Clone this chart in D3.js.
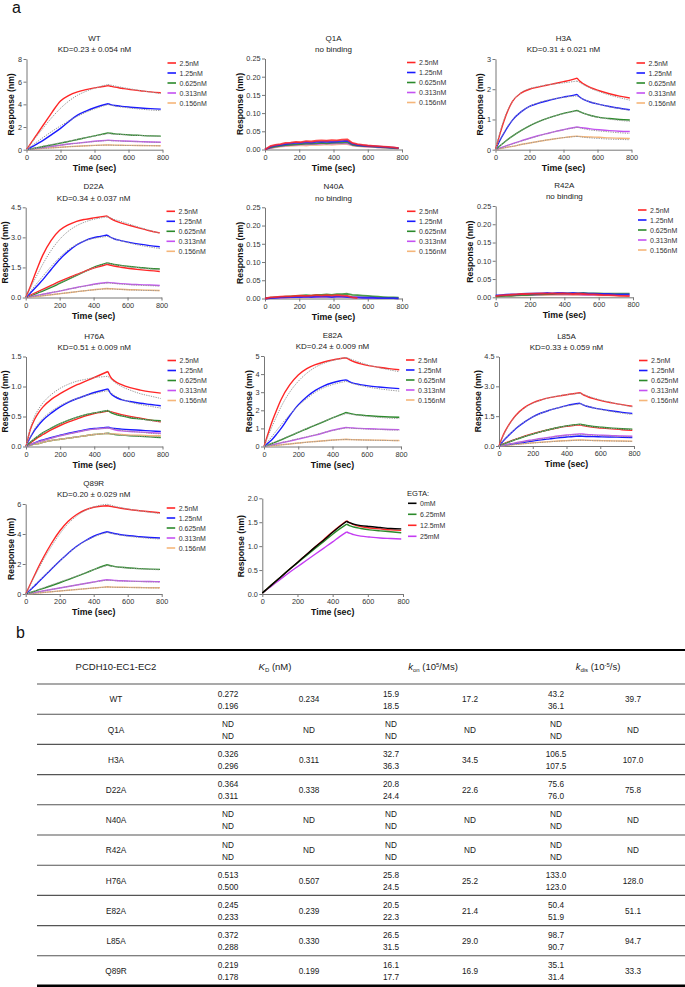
<!DOCTYPE html>
<html><head><meta charset="utf-8">
<script src="https://cdn.jsdelivr.net/npm/d3@7"></script>
<style>
body{margin:0;background:#fff;}
svg{display:block;font-family:"Liberation Sans",Arial,Helvetica,sans-serif;}
</style></head><body>
<svg id="fig" width="685" height="987"></svg>
<script>
// ---------- DATA ----------
const timeGrid = [0,25,50,75,100,150,200,250,300,350,400,440,480,495,520,560,610,670,730,790];
const noiseGrid = [0,30,60,90,120,150,180,210,240,270,300,330,360,390,420,450,480,510,540,570,600,630,660,690,720,750,780];
const xTicks = [0,200,400,600,800];
const concLabels = ["2.5nM","1.25nM","0.625nM","0.313nM","0.156nM"];
const egtaLabels = ["0mM","6.25mM","12.5mM","25mM"];
const panelTitles = ["WT","Q1A","H3A","D22A","N40A","R42A","H76A","E82A","L85A","Q89R",""];
const panelSubtitles = ["KD=0.23 ± 0.054 nM","no binding","KD=0.31 ± 0.021 nM","KD=0.34 ± 0.037 nM","no binding","no binding","KD=0.51 ± 0.009 nM","KD=0.24 ± 0.009 nM","KD=0.33 ± 0.059 nM","KD=0.20 ± 0.029 nM",""];
const yMax = [8,0.25,3,4.5,0.25,0.25,1.5,5,4.5,6,2];
const yTicks = [
  [0,2,4,6,8],[0,0.05,0.10,0.15,0.20,0.25],[0,1,2,3],
  [0,1.5,3.0,4.5],[0,0.05,0.10,0.15,0.20,0.25],[0,0.05,0.10,0.15,0.20,0.25],
  [0,0.5,1.0,1.5],[0,1,2,3,4,5],[0,1.5,3.0,4.5],
  [0,2,4,6],[0,0.5,1.0,1.5,2.0]
];
const yFormats = ["d",".2f","d",".1f",".2f",".2f",".1f","d",".1f","d",".1f"];

// WT
const wtSeries = [
 [0,0.55,1.1,1.65,2.2,3.3,4.3,4.8,5.1,5.3,5.45,5.55,5.65,5.6,5.52,5.42,5.3,5.2,5.1,5.02],
 [0,0.2,0.4,0.62,0.85,1.35,1.88,2.5,3.05,3.4,3.7,3.9,4.05,3.98,3.9,3.82,3.75,3.68,3.62,3.58],
 [0,0.07,0.14,0.21,0.28,0.43,0.58,0.74,0.9,1.06,1.22,1.35,1.48,1.45,1.4,1.35,1.3,1.26,1.22,1.2],
 [0,0.05,0.1,0.15,0.2,0.3,0.4,0.5,0.58,0.66,0.74,0.79,0.83,0.82,0.8,0.77,0.74,0.71,0.68,0.66],
 [0,0.03,0.06,0.09,0.12,0.17,0.22,0.27,0.31,0.35,0.38,0.4,0.42,0.41,0.4,0.39,0.38,0.37,0.36,0.35]
];
const wtColors = [0,1,2,3,4];
const wtFits = [
 [0,0.5,1.0,1.48,1.95,2.85,3.65,4.3,4.8,5.15,5.42,5.6,5.75,5.7,5.62,5.5,5.37,5.22,5.08,4.95],
 [0,0.28,0.56,0.83,1.1,1.62,2.1,2.55,2.95,3.3,3.6,3.8,3.98,3.92,3.85,3.76,3.67,3.58,3.5,3.45],
 [0,0.08,0.16,0.24,0.32,0.47,0.62,0.77,0.92,1.06,1.2,1.31,1.42,1.4,1.37,1.33,1.29,1.25,1.21,1.18],
 [0,0.05,0.1,0.15,0.2,0.3,0.4,0.49,0.57,0.65,0.72,0.77,0.81,0.8,0.78,0.76,0.73,0.7,0.67,0.65],
 [0,0.03,0.06,0.09,0.11,0.16,0.21,0.26,0.3,0.34,0.37,0.39,0.41,0.4,0.39,0.38,0.37,0.36,0.35,0.34]
];
// Q1A (noisy)
const q1aSeries = [
 [0,0.009,0.013,0.015,0.018,0.019,0.021,0.02,0.023,0.022,0.024,0.025,0.024,0.026,0.025,0.027,0.028,0.018,0.015,0.013,0.011,0.01,0.009,0.008,0.007,0.006,0.004],
 [0,0.007,0.011,0.013,0.015,0.017,0.018,0.018,0.02,0.019,0.021,0.021,0.022,0.021,0.022,0.023,0.024,0.016,0.013,0.011,0.01,0.009,0.008,0.007,0.006,0.005,0.004],
 [0,0.005,0.008,0.01,0.012,0.013,0.014,0.015,0.016,0.016,0.017,0.018,0.017,0.018,0.019,0.019,0.02,0.013,0.011,0.01,0.009,0.008,0.007,0.006,0.005,0.004,0.003],
 [0,0.004,0.007,0.009,0.011,0.012,0.013,0.014,0.014,0.015,0.015,0.016,0.016,0.016,0.017,0.017,0.017,0.012,0.01,0.009,0.008,0.007,0.006,0.006,0.005,0.004,0.003],
 [0,0.003,0.006,0.008,0.009,0.01,0.011,0.012,0.011,0.013,0.012,0.013,0.014,0.013,0.014,0.015,0.015,0.011,0.009,0.008,0.007,0.007,0.006,0.005,0.005,0.004,0.003]
];
// H3A
const h3aSeries = [
 [0,0.5,0.95,1.32,1.6,1.87,2.0,2.07,2.13,2.19,2.25,2.3,2.37,2.27,2.17,2.05,1.95,1.85,1.77,1.71],
 [0,0.3,0.55,0.78,0.98,1.25,1.43,1.53,1.61,1.68,1.74,1.78,1.83,1.74,1.66,1.57,1.5,1.43,1.37,1.32],
 [0,0.12,0.24,0.35,0.45,0.63,0.79,0.92,1.03,1.12,1.2,1.25,1.3,1.26,1.2,1.13,1.07,1.03,1.0,0.98],
 [0,0.05,0.1,0.15,0.2,0.29,0.38,0.46,0.53,0.6,0.66,0.71,0.75,0.74,0.72,0.69,0.66,0.63,0.61,0.6],
 [0,0.03,0.06,0.09,0.11,0.17,0.22,0.27,0.32,0.36,0.4,0.43,0.45,0.44,0.43,0.42,0.41,0.39,0.38,0.37]
];
const h3aColors = [0,1,2,3,4];
const h3aFits = [
 [0,0.55,1.0,1.35,1.6,1.88,2.02,2.09,2.14,2.18,2.21,2.24,2.27,2.22,2.14,2.03,1.92,1.81,1.72,1.64],
 [0,0.3,0.57,0.8,0.98,1.25,1.43,1.55,1.63,1.69,1.73,1.76,1.78,1.73,1.66,1.58,1.5,1.42,1.36,1.3],
 [0,0.12,0.24,0.35,0.45,0.63,0.79,0.92,1.03,1.12,1.19,1.24,1.28,1.25,1.2,1.13,1.06,1.01,0.97,0.94],
 [0,0.05,0.1,0.15,0.19,0.28,0.37,0.45,0.53,0.6,0.66,0.7,0.74,0.72,0.69,0.65,0.62,0.59,0.56,0.54],
 [0,0.03,0.06,0.09,0.11,0.17,0.22,0.27,0.32,0.36,0.4,0.42,0.44,0.43,0.41,0.39,0.37,0.35,0.34,0.33]
];
// D22A
const d22aSeries = [
 [0,0.5,1.05,1.6,2.1,2.85,3.35,3.62,3.8,3.9,3.97,4.02,4.07,3.97,3.85,3.72,3.6,3.46,3.33,3.22],
 [0,0.2,0.42,0.65,0.88,1.4,1.9,2.3,2.62,2.84,2.98,3.05,3.12,3.03,2.93,2.84,2.75,2.66,2.59,2.53],
 [0,0.1,0.2,0.3,0.4,0.6,0.8,0.98,1.15,1.32,1.47,1.56,1.65,1.62,1.57,1.51,1.45,1.39,1.34,1.3],
 [0,0.08,0.16,0.24,0.32,0.5,0.7,0.9,1.1,1.3,1.5,1.62,1.73,1.7,1.65,1.6,1.55,1.5,1.45,1.42],
 [0,0.04,0.08,0.12,0.16,0.24,0.32,0.41,0.5,0.58,0.66,0.71,0.75,0.74,0.72,0.69,0.66,0.64,0.62,0.6],
 [0,0.02,0.04,0.06,0.09,0.14,0.19,0.24,0.29,0.34,0.39,0.42,0.45,0.44,0.43,0.41,0.39,0.38,0.36,0.35]
];
const d22aColors = [0,1,0,2,3,4];
const d22aFits = [
 [0,0.42,0.85,1.25,1.65,2.35,2.9,3.3,3.58,3.77,3.9,3.97,4.02,3.98,3.9,3.8,3.66,3.5,3.35,3.2],
 [0,0.27,0.54,0.8,1.05,1.55,2.0,2.37,2.65,2.84,2.95,3.0,3.05,3.0,2.93,2.83,2.72,2.61,2.52,2.44],
 [0,0.09,0.18,0.27,0.36,0.55,0.74,0.93,1.12,1.3,1.48,1.6,1.7,1.68,1.64,1.59,1.53,1.48,1.43,1.38],
 [0,0.04,0.08,0.12,0.16,0.25,0.33,0.41,0.49,0.57,0.64,0.69,0.73,0.72,0.7,0.67,0.64,0.61,0.59,0.57],
 [0,0.02,0.04,0.07,0.09,0.14,0.19,0.24,0.29,0.34,0.38,0.41,0.44,0.43,0.42,0.4,0.38,0.36,0.35,0.34]
];
// N40A (noisy)
const n40aSeries = [
 [0,0.003,0.004,0.005,0.006,0.006,0.007,0.008,0.007,0.008,0.009,0.008,0.009,0.008,0.009,0.008,0.007,0.003,0.001,null,null,null,null,null,null,null,null],
 [0,0.001,0.002,0.003,0.003,0.004,0.004,0.004,0.005,0.004,0.005,0.005,0.005,0.004,0.005,0.005,0.004,0.003,0.003,0.002,0.002,0.002,0.001,0.001,0.001,0.001,0],
 [0,0.002,0.003,0.004,0.005,0.006,0.007,0.008,0.009,0.008,0.01,0.01,0.011,0.01,0.012,0.012,0.013,0.01,0.009,0.008,0.007,0.006,0.005,0.004,0.003,0.003,0.002],
 [0,0.001,0.002,0.002,0.003,0.003,0.004,0.004,0.004,0.005,0.004,0.005,0.005,0.005,0.006,0.005,0.006,0.004,0.003,0.003,0.002,0.002,0.002,0.001,0.001,0.001,0.001],
 [0,0.001,0.001,0.002,0.002,0.003,0.003,0.003,0.004,0.003,0.004,0.004,0.004,0.004,0.005,0.004,0.005,0.003,0.003,0.002,0.002,0.002,0.001,0.001,0.001,0.001,0]
];
// R42A (noisy)
const r42aSeries = [
 [0.003,0.005,0.006,0.007,0.008,0.009,0.009,0.01,0.01,0.011,0.01,0.011,0.01,0.011,0.01,0.009,0.01,0.009,0.008,0.008,0.007,0.006,0.006,0.005,0.004,0.004,0.003],
 [0.005,0.006,0.007,0.008,0.008,0.009,0.01,0.01,0.011,0.011,0.012,0.011,0.012,0.012,0.011,0.012,0.011,0.011,0.01,0.01,0.009,0.009,0.009,0.008,0.008,0.008,0.008],
 [0.002,0.003,0.004,0.004,0.005,0.006,0.006,0.007,0.008,0.008,0.009,0.009,0.01,0.01,0.011,0.011,0.011,0.012,0.011,0.011,0.011,0.01,0.01,0.01,0.01,0.01,0.01],
 [0.003,0.004,0.005,0.005,0.006,0.006,0.007,0.007,0.007,0.008,0.008,0.008,0.008,0.008,0.008,0.008,0.008,0.007,0.007,0.007,0.007,0.006,0.006,0.006,0.006,0.005,0.005],
 [0.002,0.003,0.004,0.004,0.005,0.005,0.005,0.006,0.006,0.006,0.006,0.007,0.007,0.007,0.007,0.006,0.006,0.006,0.006,0.006,0.005,0.005,0.005,0.005,0.005,0.004,0.004]
];
// H76A
const h76aSeries = [
 [0,0.28,0.45,0.57,0.66,0.79,0.88,0.96,1.03,1.09,1.15,1.2,1.25,1.16,1.09,1.03,0.98,0.94,0.91,0.89],
 [0,0.15,0.27,0.36,0.44,0.56,0.66,0.74,0.8,0.85,0.9,0.93,0.96,0.89,0.83,0.78,0.75,0.72,0.7,0.68],
 [0,0.07,0.13,0.18,0.23,0.31,0.38,0.44,0.49,0.53,0.56,0.58,0.6,0.57,0.54,0.51,0.48,0.46,0.44,0.43],
 [0,0.06,0.11,0.16,0.2,0.28,0.35,0.41,0.46,0.51,0.55,0.57,0.59,0.58,0.56,0.53,0.5,0.47,0.44,0.41],
 [0,0.03,0.06,0.08,0.1,0.14,0.18,0.21,0.24,0.27,0.29,0.3,0.31,0.3,0.28,0.26,0.25,0.24,0.23,0.22],
 [0,0.03,0.06,0.09,0.11,0.15,0.19,0.22,0.25,0.28,0.3,0.31,0.32,0.31,0.3,0.29,0.28,0.27,0.26,0.25],
 [0,0.02,0.04,0.05,0.07,0.1,0.12,0.14,0.16,0.18,0.2,0.21,0.22,0.21,0.21,0.2,0.19,0.19,0.18,0.18],
 [0,0.02,0.04,0.05,0.07,0.1,0.12,0.14,0.16,0.18,0.2,0.21,0.22,0.21,0.2,0.19,0.18,0.17,0.16,0.15]
];
const h76aColors = [0,1,2,0,3,1,4,2];
const h76aFits = [
 [0,0.3,0.5,0.63,0.73,0.87,0.97,1.04,1.09,1.12,1.15,1.16,1.17,1.13,1.07,1.0,0.94,0.88,0.84,0.8],
 [0,0.16,0.29,0.39,0.47,0.59,0.68,0.75,0.8,0.85,0.88,0.91,0.93,0.9,0.85,0.79,0.74,0.7,0.67,0.64],
 [0,0.07,0.13,0.18,0.23,0.31,0.38,0.44,0.49,0.53,0.56,0.58,0.6,0.58,0.55,0.52,0.49,0.46,0.43,0.41],
 [0,0.03,0.06,0.08,0.1,0.14,0.18,0.21,0.24,0.27,0.29,0.3,0.31,0.3,0.29,0.27,0.25,0.24,0.22,0.21],
 [0,0.02,0.04,0.05,0.07,0.1,0.12,0.14,0.16,0.18,0.2,0.21,0.22,0.21,0.2,0.19,0.18,0.17,0.16,0.16]
];
// E82A
const e82aSeries = [
 [0,0.75,1.45,2.05,2.6,3.4,3.95,4.3,4.52,4.67,4.78,4.85,4.9,4.82,4.7,4.58,4.47,4.38,4.3,4.24],
 [0,0.2,0.42,0.7,1.0,1.7,2.3,2.75,3.1,3.35,3.52,3.62,3.68,3.6,3.5,3.42,3.35,3.29,3.24,3.2],
 [0,0.09,0.18,0.27,0.37,0.57,0.78,0.98,1.18,1.38,1.58,1.73,1.88,1.84,1.79,1.74,1.7,1.66,1.63,1.62],
 [0,0.05,0.1,0.15,0.2,0.3,0.41,0.52,0.63,0.76,0.9,0.98,1.05,1.04,1.02,1.0,0.98,0.96,0.94,0.93],
 [0,0.02,0.04,0.07,0.09,0.14,0.19,0.24,0.28,0.32,0.36,0.38,0.4,0.39,0.38,0.37,0.36,0.35,0.34,0.33]
];
const e82aColors = [0,1,2,3,4];
const e82aFits = [
 [0,0.6,1.17,1.7,2.2,3.0,3.6,4.05,4.38,4.6,4.75,4.84,4.92,4.87,4.78,4.65,4.5,4.36,4.24,4.13],
 [0,0.3,0.6,0.9,1.2,1.75,2.25,2.65,3.0,3.25,3.42,3.52,3.6,3.55,3.47,3.38,3.28,3.19,3.12,3.06],
 [0,0.1,0.2,0.3,0.4,0.6,0.8,1.0,1.2,1.4,1.58,1.7,1.82,1.8,1.76,1.71,1.66,1.61,1.57,1.54],
 [0,0.05,0.1,0.16,0.21,0.32,0.43,0.54,0.65,0.77,0.88,0.96,1.03,1.02,1.0,0.98,0.96,0.94,0.92,0.9],
 [0,0.02,0.05,0.07,0.09,0.14,0.19,0.23,0.27,0.31,0.35,0.37,0.39,0.38,0.37,0.36,0.35,0.34,0.33,0.32]
];
// L85A
const l85aSeries = [
 [0,0.55,0.95,1.28,1.55,1.93,2.17,2.32,2.43,2.51,2.58,2.63,2.68,2.6,2.5,2.38,2.27,2.17,2.08,2.0],
 [0,0.25,0.47,0.68,0.88,1.2,1.47,1.66,1.8,1.92,2.03,2.1,2.15,2.08,2.0,1.92,1.84,1.76,1.69,1.64],
 [0,0.09,0.17,0.25,0.33,0.47,0.6,0.72,0.83,0.93,1.01,1.06,1.1,1.07,1.03,0.98,0.94,0.9,0.87,0.85],
 [0,0.1,0.19,0.27,0.35,0.49,0.62,0.73,0.83,0.92,0.99,1.03,1.06,1.03,0.99,0.94,0.9,0.86,0.82,0.79],
 [0,0.04,0.08,0.12,0.16,0.24,0.31,0.38,0.44,0.5,0.55,0.58,0.61,0.6,0.58,0.56,0.54,0.52,0.5,0.49],
 [0,0.04,0.07,0.1,0.13,0.19,0.25,0.31,0.36,0.41,0.45,0.48,0.5,0.49,0.48,0.47,0.46,0.45,0.44,0.43],
 [0,0.02,0.04,0.06,0.08,0.12,0.16,0.19,0.22,0.25,0.27,0.29,0.3,0.3,0.29,0.28,0.27,0.26,0.25,0.24]
];
const l85aColors = [0,1,2,0,3,1,4];
const l85aFits = [
 [0,0.5,0.92,1.25,1.52,1.9,2.15,2.31,2.43,2.52,2.58,2.62,2.65,2.61,2.53,2.42,2.3,2.18,2.07,1.97],
 [0,0.26,0.49,0.7,0.89,1.21,1.46,1.65,1.8,1.92,2.01,2.07,2.12,2.08,2.01,1.92,1.82,1.73,1.65,1.58],
 [0,0.09,0.18,0.26,0.34,0.48,0.61,0.72,0.83,0.92,1.0,1.04,1.08,1.05,1.01,0.96,0.92,0.88,0.85,0.82],
 [0,0.04,0.08,0.11,0.15,0.22,0.29,0.36,0.42,0.48,0.53,0.56,0.59,0.58,0.56,0.54,0.52,0.5,0.48,0.46],
 [0,0.02,0.04,0.06,0.08,0.12,0.15,0.18,0.21,0.24,0.26,0.28,0.29,0.29,0.28,0.27,0.26,0.25,0.24,0.23]
];
// Q89R
const q89rSeries = [
 [0,0.6,1.2,1.8,2.35,3.35,4.2,4.85,5.3,5.6,5.78,5.85,5.88,5.85,5.8,5.72,5.63,5.55,5.48,5.42],
 [0,0.25,0.52,0.8,1.08,1.65,2.2,2.72,3.18,3.55,3.85,4.02,4.15,4.1,4.03,3.95,3.88,3.82,3.77,3.73],
 [0,0.09,0.18,0.27,0.36,0.55,0.75,0.96,1.17,1.39,1.62,1.8,1.95,1.9,1.84,1.78,1.73,1.69,1.66,1.64],
 [0,0.05,0.1,0.15,0.2,0.3,0.4,0.5,0.6,0.7,0.8,0.88,0.95,0.93,0.91,0.88,0.86,0.84,0.83,0.82],
 [0,0.025,0.05,0.075,0.1,0.15,0.2,0.25,0.3,0.35,0.4,0.44,0.48,0.47,0.46,0.45,0.44,0.43,0.42,0.42]
];
const q89rColors = [0,1,2,3,4];
const q89rFits = [
 [0,0.57,1.13,1.67,2.2,3.15,4.0,4.7,5.2,5.57,5.8,5.92,5.98,5.94,5.86,5.76,5.65,5.55,5.45,5.37],
 [0,0.28,0.57,0.85,1.12,1.67,2.2,2.7,3.15,3.52,3.8,3.97,4.1,4.06,4.0,3.92,3.84,3.77,3.71,3.66],
 [0,0.1,0.2,0.3,0.4,0.6,0.8,1.0,1.2,1.41,1.62,1.77,1.9,1.87,1.82,1.77,1.72,1.68,1.64,1.61],
 [0,0.05,0.1,0.15,0.2,0.3,0.4,0.5,0.6,0.7,0.79,0.86,0.92,0.91,0.89,0.87,0.85,0.83,0.81,0.8],
 [0,0.025,0.05,0.075,0.1,0.15,0.2,0.25,0.3,0.35,0.4,0.43,0.47,0.46,0.45,0.44,0.43,0.42,0.41,0.4]
];
// EGTA
const egtaSeries = [
 [0.02,0.1,0.18,0.26,0.34,0.5,0.66,0.82,0.98,1.13,1.29,1.41,1.52,1.49,1.46,1.43,1.41,1.39,1.37,1.36],
 [0.02,0.1,0.18,0.26,0.34,0.5,0.65,0.8,0.95,1.1,1.25,1.36,1.46,1.43,1.4,1.37,1.34,1.32,1.3,1.28],
 [0.02,0.1,0.18,0.26,0.34,0.5,0.66,0.82,0.98,1.14,1.3,1.42,1.53,1.49,1.45,1.41,1.38,1.36,1.34,1.33],
 [0.02,0.09,0.16,0.23,0.3,0.44,0.57,0.7,0.83,0.96,1.09,1.2,1.3,1.27,1.24,1.21,1.19,1.17,1.16,1.15]
];
const egtaColorsIdx = [0,1,2,3];

// Table data
const tblHeaders = ["PCDH10-EC1-EC2","KD","kon","kdis"];
const tblNames = ["WT","Q1A","H3A","D22A","N40A","R42A","H76A","E82A","L85A","Q89R"];
const kdRep = [["0.272","0.196"],["ND","ND"],["0.326","0.296"],["0.364","0.311"],["ND","ND"],["ND","ND"],["0.513","0.500"],["0.245","0.233"],["0.372","0.288"],["0.219","0.178"]];
const kdAvg = ["0.234","ND","0.311","0.338","ND","ND","0.507","0.239","0.330","0.199"];
const konRep = [["15.9","18.5"],["ND","ND"],["32.7","36.3"],["20.8","24.4"],["ND","ND"],["ND","ND"],["25.8","24.5"],["20.5","22.3"],["26.5","31.5"],["16.1","17.7"]];
const konAvg = ["17.2","ND","34.5","22.6","ND","ND","25.2","21.4","29.0","16.9"];
const kdisRep = [["43.2","36.1"],["ND","ND"],["106.5","107.5"],["75.6","76.0"],["ND","ND"],["ND","ND"],["133.0","123.0"],["50.4","51.9"],["98.7","90.7"],["35.1","31.4"]];
const kdisAvg = ["39.7","ND","107.0","75.8","ND","ND","128.0","51.1","94.7","33.3"];

// ---------- STYLE / LAYOUT ----------
const concColors = ["#ff2626","#1a1aff","#2b8a2b","#c452f2","#f5b67a"];
const egtaColors = ["#000000","#2b8a2b","#ff2626","#c43cf2"];
const layout = [
 {x0:26.5,x1:162.5,y0:59,y1:149.7},
 {x0:265,x1:402,y0:58.5,y1:149.5},
 {x0:495.5,x1:631.5,y0:59,y1:149.7},
 {x0:25.7,x1:161.5,y0:207.3,y1:297.5},
 {x0:265,x1:402,y0:207.3,y1:298.5},
 {x0:495.7,x1:633,y0:206,y1:297.3},
 {x0:26,x1:162.5,y0:356.5,y1:446.5},
 {x0:264,x1:401,y0:356,y1:446.5},
 {x0:499,x1:634,y0:356.5,y1:446},
 {x0:25.7,x1:161.7,y0:504,y1:594},
 {x0:262.3,x1:403,y0:498.3,y1:594}
];

const svg = d3.select("#fig");
svg.append("rect").attr("width",685).attr("height",987).attr("fill","#fff");

svg.append("text").attr("x",12).attr("y",13).attr("font-size",16).attr("fill","#111").text("a");
svg.append("text").attr("x",16).attr("y",638).attr("font-size",16).attr("fill","#111").text("b");

function drawPanel(i, opts){
  const L = layout[i];
  const g = svg.append("g");
  const x = d3.scaleLinear().domain([0,800]).range([L.x0,L.x1]);
  const y = d3.scaleLinear().domain([0,yMax[i]]).range([L.y1,L.y0]);

  const xa = g.append("g").attr("transform",`translate(0,${L.y1})`)
    .call(d3.axisBottom(x).tickValues(xTicks).tickSize(3).tickSizeOuter(0).tickPadding(2));
  const ya = g.append("g").attr("transform",`translate(${L.x0},0)`)
    .call(d3.axisLeft(y).tickValues(yTicks[i]).tickFormat(d3.format(yFormats[i])).tickSize(3).tickSizeOuter(0).tickPadding(1.5));
  [xa,ya].forEach(a=>{
    a.select(".domain").attr("stroke","#777").attr("stroke-width",1);
    a.selectAll(".tick line").attr("stroke","#777");
    a.selectAll(".tick text").attr("font-size",7.3).attr("fill","#333")
      .attr("font-family",'"Liberation Sans",Arial,sans-serif');
  });

  const lineGen = d3.line().defined(d=>d[1]!==null).x(d=>x(d[0])).y(d=>y(d[1]));
  if(opts.noisy){
    const order = d3.range(opts.series.length).reverse();
    order.forEach(k=>{
      const pts = noiseGrid.map((t,j)=>[t,opts.series[k][j]]);
      g.append("path").attr("d",lineGen.curve(d3.curveLinear)(pts))
        .attr("fill","none").attr("stroke",opts.colors[opts.colorIdx[k]])
        .attr("stroke-width",1.8).attr("stroke-opacity",0.85).attr("stroke-linejoin","round");
    });
  } else {
    const mono = d3.line().x(d=>x(d[0])).y(d=>y(d[1])).curve(d3.curveMonotoneX);
    const seg = vals => {
      const pts = timeGrid.map((t,j)=>[t,vals[j]]);
      return mono(pts.filter(p=>p[0]<=480)) + mono(pts.filter(p=>p[0]>=480));
    };
    const order = d3.range(opts.series.length).reverse();
    order.forEach(k=>{
      g.append("path").attr("d",seg(opts.series[k])).attr("fill","none")
        .attr("stroke",opts.colors[opts.colorIdx[k]]).attr("stroke-width",1.4);
    });
    (opts.fits||[]).forEach(f=>{
      g.append("path").attr("d",seg(f)).attr("fill","none")
        .attr("stroke","#9a9a9a").attr("stroke-width",1).attr("stroke-dasharray","1.3,1.1");
    });
  }

  const cx = (L.x0+L.x1)/2;
  if(panelTitles[i]) g.append("text").attr("x",cx).attr("y",L.y0-18).attr("text-anchor","middle")
      .attr("font-size",8).attr("fill","#222").text(panelTitles[i]);
  if(panelSubtitles[i]) g.append("text").attr("x",cx).attr("y",L.y0-6.8).attr("text-anchor","middle")
      .attr("font-size",8).attr("fill","#222").text(panelSubtitles[i]);

  g.append("text").attr("x",cx).attr("y",L.y1+21).attr("text-anchor","middle")
    .attr("font-size",8.8).attr("font-weight","bold").attr("fill","#111").text("Time (sec)");
  let maxW = 0;
  ya.selectAll(".tick text").each(function(){ maxW=Math.max(maxW,this.getComputedTextLength()); });
  const lx = L.x0 - 4 - maxW - 4;
  g.append("text").attr("transform",`translate(${lx},${(L.y0+L.y1)/2}) rotate(-90)`)
    .attr("text-anchor","middle").attr("font-size",8.6).attr("font-weight","bold").attr("fill","#111")
    .text("Response (nm)");

  const labels = opts.labels;
  let ly0 = L.y0 + 4;
  const lgap = opts.legendGap || 10;
  if(opts.legendTitle){
    g.append("text").attr("x",L.x1+4).attr("y",L.y0-5.5+2.7).attr("font-size",7.6).attr("fill","#222").text(opts.legendTitle);
    ly0 = L.y0 + 5;
  }
  labels.forEach((lab,j)=>{
    const yy = ly0 + j*lgap;
    g.append("line").attr("x1",L.x1+5).attr("x2",L.x1+13.5).attr("y1",yy).attr("y2",yy)
      .attr("stroke",opts.colors[j]).attr("stroke-width",1.6);
    g.append("text").attr("x",L.x1+17).attr("y",yy+2.6).attr("font-size",7).attr("fill","#333").text(lab);
  });
}

drawPanel(0,{series:wtSeries,colorIdx:wtColors,fits:wtFits,colors:concColors,labels:concLabels});
drawPanel(1,{series:q1aSeries,colorIdx:[0,1,2,3,4],colors:concColors,labels:concLabels,noisy:true});
drawPanel(2,{series:h3aSeries,colorIdx:h3aColors,fits:h3aFits,colors:concColors,labels:concLabels});
drawPanel(3,{series:d22aSeries,colorIdx:d22aColors,fits:d22aFits,colors:concColors,labels:concLabels});
drawPanel(4,{series:n40aSeries,colorIdx:[0,1,2,3,4],colors:concColors,labels:concLabels,noisy:true});
drawPanel(5,{series:r42aSeries,colorIdx:[0,1,2,3,4],colors:concColors,labels:concLabels,noisy:true});
drawPanel(6,{series:h76aSeries,colorIdx:h76aColors,fits:h76aFits,colors:concColors,labels:concLabels});
drawPanel(7,{series:e82aSeries,colorIdx:e82aColors,fits:e82aFits,colors:concColors,labels:concLabels});
drawPanel(8,{series:l85aSeries,colorIdx:l85aColors,fits:l85aFits,colors:concColors,labels:concLabels});
drawPanel(9,{series:q89rSeries,colorIdx:q89rColors,fits:q89rFits,colors:concColors,labels:concLabels});
drawPanel(10,{series:egtaSeries,colorIdx:egtaColorsIdx,colors:egtaColors,labels:egtaLabels,legendTitle:"EGTA:",legendGap:11});

// ---------- TABLE ----------
const tTop = 650, tBottom = 986, tLeft = 37, tRight = 685;
const headH = 34;
const rowH = (tBottom - tTop - headH)/tblNames.length;
const colX = [116,228,309,391,470,556,633];
const textCol = "#1a1a1a";
const tg = svg.append("g");

tg.append("line").attr("x1",tLeft).attr("x2",tRight).attr("y1",tTop).attr("y2",tTop).attr("stroke","#000").attr("stroke-width",2);
tg.append("line").attr("x1",tLeft).attr("x2",tRight).attr("y1",tBottom).attr("y2",tBottom).attr("stroke","#000").attr("stroke-width",3);
for(let r=0;r<tblNames.length;r++){
  const yy = tTop + headH + r*rowH;
  tg.append("line").attr("x1",tLeft).attr("x2",tRight).attr("y1",yy).attr("y2",yy).attr("stroke","#555").attr("stroke-width",1.1);
}
const hy = tTop + headH/2 + 3.4;
tg.append("text").attr("x",colX[0]).attr("y",hy).attr("text-anchor","middle").attr("font-size",9.5).attr("fill",textCol).text(tblHeaders[0]);
function subHead(x, main, sub, restPre, sup, restPost){
  const t = tg.append("text").attr("x",x).attr("y",hy).attr("text-anchor","middle").attr("font-size",9.5).attr("fill",textCol);
  t.append("tspan").attr("font-style","italic").text(main);
  t.append("tspan").attr("font-size",6).attr("dy",2).text(sub);
  t.append("tspan").attr("dy",-2).text(restPre);
  if(sup){
    t.append("tspan").attr("font-size",6).attr("dy",-3.5).text(sup);
    t.append("tspan").attr("dy",3.5).text(restPost);
  }
}
subHead(275,"K","D"," (nM)");
subHead(433,"k","on"," (10","5","/Ms)");
subHead(598,"k","dis"," (10","-5","/s)");

function cellText(x, y, txt){
  tg.append("text").attr("transform",`translate(${x},${y}) scale(0.86,1)`)
    .attr("text-anchor","middle").attr("font-size",9.6).attr("fill",textCol).text(txt);
}
tblNames.forEach((nm,r)=>{
  const c = tTop + headH + r*rowH + rowH/2;
  cellText(colX[0], c+3.3, nm);
  [[kdRep,kdAvg],[konRep,konAvg],[kdisRep,kdisAvg]].forEach((pair,k)=>{
    cellText(colX[1+2*k], c-2.6, pair[0][r][0]);
    cellText(colX[1+2*k], c+9.4, pair[0][r][1]);
    cellText(colX[2+2*k], c+3.3, pair[1][r]);
  });
});
</script></body></html>
